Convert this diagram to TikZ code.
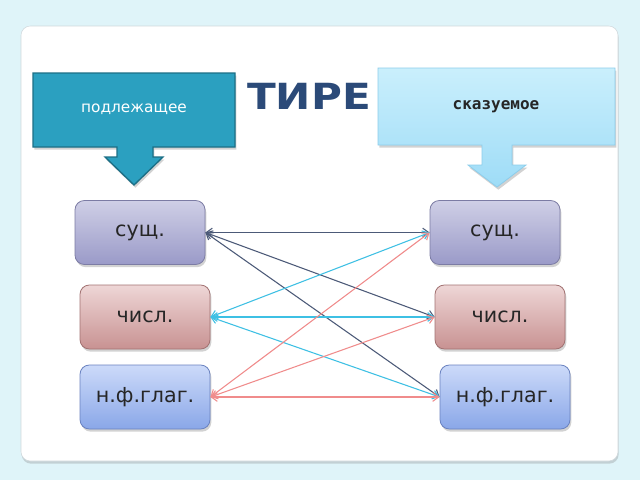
\documentclass[tikz,border=0pt]{standalone}
\usepackage{fontspec}
\setmainfont{DejaVu Sans}
\newfontfamily\monof{DejaVu Sans Mono}
\usetikzlibrary{shadows,arrows.meta}
\definecolor{bgc}{HTML}{DFF4F9}
\definecolor{panelb}{HTML}{D0D8DC}
\definecolor{calL}{HTML}{2BA0C0}
\definecolor{calLb}{HTML}{1C6F86}
\definecolor{calRt}{HTML}{CAEFFC}
\definecolor{calRb}{HTML}{9EDCF7}
\definecolor{calRd}{HTML}{8CCDEB}
\definecolor{susT}{HTML}{CFCFE6}
\definecolor{susB}{HTML}{9A9AC8}
\definecolor{susD}{HTML}{7C7CA4}
\definecolor{chT}{HTML}{EED6D6}
\definecolor{chB}{HTML}{C89292}
\definecolor{chD}{HTML}{A27272}
\definecolor{nfT}{HTML}{CCDAF9}
\definecolor{nfB}{HTML}{8AA7E8}
\definecolor{nfD}{HTML}{6A82C0}
\definecolor{dk}{HTML}{4C5A78}
\definecolor{cy}{HTML}{3EC0E4}
\definecolor{pk}{HTML}{F08C8C}
\definecolor{title}{HTML}{2B4A78}
\begin{document}
\begin{tikzpicture}[x=0.75pt,y=-0.75pt,
  >={Straight Barb[length=4.5pt,width=6.5pt]},
  shad/.style={drop shadow={shadow xshift=1pt,shadow yshift=-2pt,opacity=0.35}},
  box/.style={rounded corners=7pt, minimum width=97.5pt, minimum height=48pt,
    line width=0.6pt, font=\fontsize{15.5}{18}\selectfont, text=black!85, shad},
  sus/.style={box, top color=susT, bottom color=susB, draw=susD},
  chis/.style={box, top color=chT, bottom color=chB, draw=chD},
  nf/.style={box, top color=nfT, bottom color=nfB, draw=nfD},
  conn/.style={line width=0.8pt, <->}
]
\useasboundingbox (0,0) rectangle (640,480);
\fill[bgc] (0,0) rectangle (640,480);
\draw[rounded corners=7pt, fill=white, draw=panelb, drop shadow={shadow xshift=0.5pt,shadow yshift=-2pt,opacity=0.3}]
  (21,26) rectangle (618,461);

% left callout
\path[fill=calL, draw=calLb, line width=1pt, shad]
  (33,73) -- (235,73) -- (235,147) -- (153,147) -- (153,157) -- (163,157)
  -- (134,185) -- (105,157) -- (117,157) -- (117,147) -- (33,147) -- cycle;
\node[text=white, font=\fontsize{11.5}{14}\selectfont] (pod) at (134,109) {подлежащее};

% right callout
\path[top color=calRt, bottom color=calRb, draw=calRd, line width=0.6pt, shad]
  (378,68) -- (615,68) -- (615,145) -- (512,145) -- (512,165) -- (526,165)
  -- (497,187) -- (468,165) -- (482,165) -- (482,145) -- (378,145) -- cycle;
\node[font=\monof\bfseries\fontsize{12}{14}\selectfont, text=black!85] (sk) at (496,107) {сказуемое};

% title
\node[font=\bfseries\fontsize{27}{30}\selectfont, text=title, xscale=1.17] (tire) at (309,96) {ТИРЕ};

% boxes
\node[sus]  (L1) at (140,232.5) {сущ.};
\node[chis] (L2) at (145,317)   {числ.};
\node[nf]   (L3) at (145,397)   {н.ф.глаг.};
\node[sus]  (R1) at (495,232.5) {сущ.};
\node[chis] (R2) at (500,317)   {числ.};
\node[nf]   (R3) at (505,397)   {н.ф.глаг.};

% connectors
\draw[conn, dk] (L1.east) -- (R1.west);
\draw[conn, dk] (L1.east) -- (R2.west);
\draw[conn, dk] (L1.east) -- (R3.west);
\draw[conn, cy] (L2.east) -- (R1.west);
\draw[conn, cy] (L2.east) -- (R2.west);
\draw[conn, cy] (L2.east) -- (R3.west);
\draw[conn, pk] (L3.east) -- (R1.west);
\draw[conn, pk] (L3.east) -- (R2.west);
\draw[conn, pk] (L3.east) -- (R3.west);
\end{tikzpicture}
\end{document}
